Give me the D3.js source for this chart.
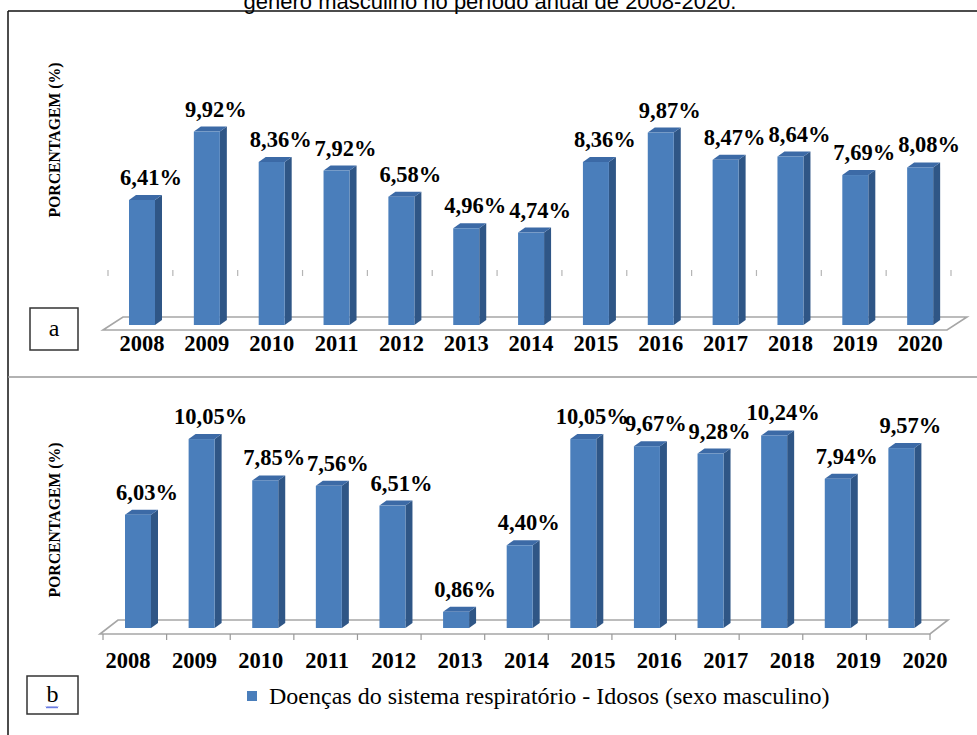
<!DOCTYPE html>
<html>
<head>
<meta charset="utf-8">
<script src="https://d3js.org/d3.v7.min.js"></script>
<style>
  body { margin: 0; background: #fff; }
  svg { display: block; }
</style>
</head>
<body>
<svg id="chart" width="977" height="735"></svg>
<script>
    // data
    const years = ["2008", "2009", "2010", "2011", "2012", "2013", "2014",
                   "2015", "2016", "2017", "2018", "2019", "2020"];
    const valuesA = [6.41, 9.92, 8.36, 7.92, 6.58, 4.96, 4.74, 8.36, 9.87, 8.47, 8.64, 7.69, 8.08];
    const valuesB = [6.03, 10.05, 7.85, 7.56, 6.51, 0.86, 4.40, 10.05, 9.67, 9.28, 10.24, 7.94, 9.57];
    const titleText = "gênero masculino no período anual de 2008-2020.";
    const yAxisTitle = "PORCENTAGEM (%)";
    const legendText = "Doenças do sistema respiratório - Idosos (sexo masculino)";
    const panelNames = ["a", "b"];

    const svg = d3.select("#chart");
    const serif = "'Liberation Serif', 'Times New Roman', serif";
    const frontColor = "#4a7ebb", sideColor = "#2f5686", topColor = "#3c6aa6";
    const fmt = v => d3.format(".2f")(v).replace(".", ",") + "%";

    // title (cut at the top of the page, as in the source) and frame
    svg.append("text")
        .attr("x", 490).attr("y", 9)
        .attr("text-anchor", "middle")
        .attr("font-family", "'Liberation Sans', Arial, sans-serif")
        .attr("font-size", 22)
        .text(titleText);
    svg.append("line").attr("x1", 8).attr("x2", 977).attr("y1", 11).attr("y2", 11)
        .attr("stroke", "#111").attr("stroke-width", 1.5);
    svg.append("line").attr("x1", 8).attr("x2", 8).attr("y1", 11).attr("y2", 735)
        .attr("stroke", "#111").attr("stroke-width", 1.5);
    svg.append("line").attr("x1", 8).attr("x2", 977).attr("y1", 377).attr("y2", 377)
        .attr("stroke", "#999").attr("stroke-width", 1.5);

    function drawPanel(g, values, o) {
        const x = d3.scaleBand().domain(years).range(o.xRange);
        const y = d3.scaleLinear().domain([0, 10]).range([o.base, o.base - o.pxPer * 10]);
        const [r0, r1] = o.xRange;
        const dx = 7, dy = 5, w = 26;

        // floor
        const fl = [[r0 + o.floorL, o.floorY], [r0 + o.floorL + o.fdx, o.floorY - o.fdy],
                    [r1 + o.floorR + o.fdx, o.floorY - o.fdy], [r1 + o.floorR, o.floorY]];
        g.append("path")
            .attr("d", d3.line()(fl) + "Z")
            .attr("fill", "#fff").attr("stroke", "#a6a6a6").attr("stroke-width", 1.6);

        if (o.frontTicks) {
            g.selectAll(".ft").data(d3.range(years.length + 1))
                .join("line")
                .attr("x1", i => r0 + i * x.step()).attr("x2", i => r0 + i * x.step())
                .attr("y1", o.floorY).attr("y2", o.floorY + 6)
                .attr("stroke", "#999").attr("stroke-width", 1.2);
        }
        if (o.wallTicks) {
            g.selectAll(".wt").data(d3.range(years.length + 1))
                .join("line")
                .attr("x1", i => r0 + i * x.step()).attr("x2", i => r0 + i * x.step())
                .attr("y1", o.wallTicks).attr("y2", o.wallTicks + 6)
                .attr("stroke", "#b5b5b5").attr("stroke-width", 1.2);
        }

        const data = years.map((yr, i) => ({ yr, v: values[i] }));
        const bars = g.selectAll(".bar").data(data).join("g");
        const bx = d => x(d.yr) + o.barOff;
        bars.append("path")
            .attr("d", d => d3.line()([[bx(d) + w, y(d.v)], [bx(d) + w + dx, y(d.v) - dy],
                [bx(d) + w + dx, o.base - dy], [bx(d) + w, o.base]]) + "Z")
            .attr("fill", sideColor);
        bars.append("path")
            .attr("d", d => d3.line()([[bx(d), y(d.v)], [bx(d) + dx, y(d.v) - dy],
                [bx(d) + w + dx, y(d.v) - dy], [bx(d) + w, y(d.v)]]) + "Z")
            .attr("fill", topColor);
        bars.append("rect")
            .attr("x", bx).attr("y", d => y(d.v))
            .attr("width", w).attr("height", d => o.base - y(d.v))
            .attr("fill", frontColor);

        bars.append("text")
            .attr("x", d => bx(d) + w / 2 + 9)
            .attr("y", d => y(d.v) - 15)
            .attr("text-anchor", "middle")
            .attr("font-family", serif).attr("font-weight", "bold")
            .attr("font-size", 22.5)
            .text(d => fmt(d.v));

        // year labels
        const lx = o.labelRange
            ? d3.scalePoint().domain(years).range(o.labelRange)
            : (yr => x(yr) + o.barOff + w / 2);
        g.selectAll(".yr").data(years).join("text")
            .attr("x", d => lx(d)).attr("y", o.yearY)
            .attr("text-anchor", "middle")
            .attr("font-family", serif).attr("font-weight", "bold")
            .attr("font-size", 22.5)
            .text(d => d);

        // rotated axis title
        g.append("text")
            .attr("transform", `translate(60,${o.titleY}) rotate(-90)`)
            .attr("text-anchor", "middle")
            .attr("font-family", serif).attr("font-weight", "bold")
            .attr("font-size", 17)
            .attr("textLength", 155).attr("lengthAdjust", "spacingAndGlyphs")
            .text(yAxisTitle);

        // panel letter box
        g.append("rect")
            .attr("x", o.box[0]).attr("y", o.box[1]).attr("width", o.box[2]).attr("height", o.box[3])
            .attr("fill", "#fff").attr("stroke", "#333").attr("stroke-width", 1.5);
        g.append("text")
            .attr("x", o.box[0] + o.box[2] / 2).attr("y", o.box[1] + o.box[3] / 2 + 7)
            .attr("text-anchor", "middle")
            .attr("font-family", serif).attr("font-size", 24)
            .text(o.name);
    }

    drawPanel(svg.append("g"), valuesA, {
        name: panelNames[0], xRange: [108, 951], base: 325, pxPer: 19.5, barOff: 21,
        floorY: 330, floorL: -5, floorR: -4, fdx: 20, fdy: 13,
        wallTicks: 270, frontTicks: false, yearY: 351, titleY: 140,
        box: [30, 308, 48, 42]
    });

    const gb = svg.append("g");
    drawPanel(gb, valuesB, {
        name: panelNames[1], xRange: [103, 930], base: 628, pxPer: 18.8, barOff: 22,
        floorY: 634, floorL: -3, floorR: 0, fdx: 18, fdy: 14,
        wallTicks: null, frontTicks: true, yearY: 668, titleY: 520,
        labelRange: [128, 925],
        box: [27, 676, 51, 38]
    });

    // squiggly spell-check underline under "b"
    const wave = d3.range(0, 13).map(i => [46 + i, 707 + (i % 2 ? 1.2 : -0.6)]);
    gb.append("path").attr("d", d3.line()(wave))
        .attr("fill", "none").attr("stroke", "#5a6ee0").attr("stroke-width", 1);

    // legend
    gb.append("rect").attr("x", 247).attr("y", 691).attr("width", 10).attr("height", 10)
        .attr("fill", frontColor);
    gb.append("text").attr("x", 269).attr("y", 704)
        .attr("font-family", serif).attr("font-size", 24)
        .text(legendText);
</script>
</body>
</html>
